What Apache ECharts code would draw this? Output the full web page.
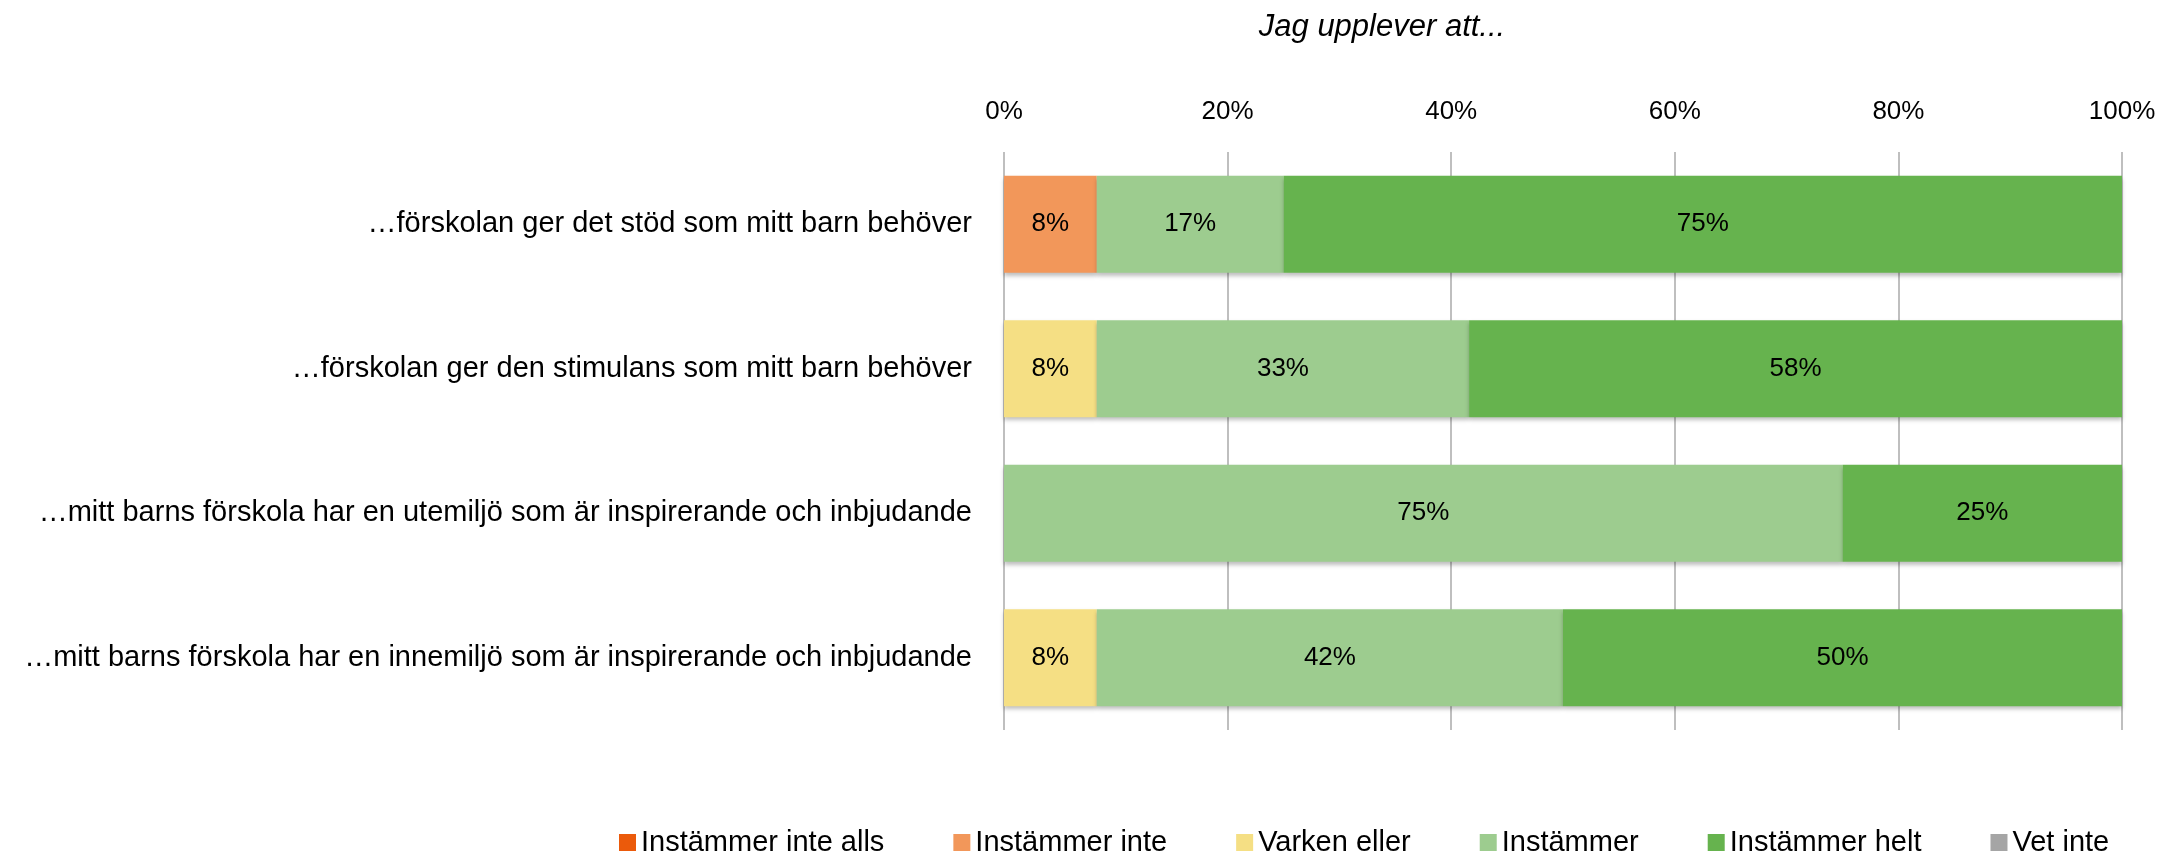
<!DOCTYPE html>
<html>
<head>
<meta charset="utf-8">
<script src="https://cdn.jsdelivr.net/npm/echarts@6/dist/echarts.min.js"></script>
<style>
html, body { margin: 0; padding: 0; background: #fff; }
#chart { width: 2162px; height: 852px; }
</style>
</head>
<body>
<div id="chart"></div>
<script>
var categories = [
	'…förskolan ger det stöd som mitt barn behöver',
	'…förskolan ger den stimulans som mitt barn behöver',
	'…mitt barns förskola har en utemiljö som är inspirerande och inbjudande',
	'…mitt barns förskola har en innemiljö som är inspirerande och inbjudande'
];
var seriesNames = ['Instämmer inte alls', 'Instämmer inte', 'Varken eller', 'Instämmer', 'Instämmer helt', 'Vet inte'];
var colors = ['#EB5A0B', '#F2975A', '#F5DF84', '#9DCC8F', '#66B34E', '#A5A5A5'];

var instammerInteAlls = [0, 0, 0, 0];
var instammerInte = [8.3, 0, 0, 0];
var varkenEller = [0, 8.3, 0, 8.3];
var instammer = [16.7, 33.3, 75, 41.7];
var instammerHelt = [75, 58.4, 25, 50];
var vetInte = [0, 0, 0, 0];

var xTicks = [0, 20, 40, 60, 80, 100];

var font = "'Liberation Sans', Arial, sans-serif";

var myChart = echarts.init(document.getElementById('chart'));

var allData = [instammerInteAlls, instammerInte, varkenEller, instammer, instammerHelt, vetInte];
var series = seriesNames.map(function(name, i) {
	return {
		name: name,
		type: 'bar',
		stack: 'total',
		barWidth: '67%',
		data: allData[i],
		itemStyle: {
			color: colors[i],
			shadowColor: 'rgba(0, 0, 0, 0.25)',
			shadowBlur: 4,
			shadowOffsetY: 3
		},
		label: {
			show: true,
			position: 'inside',
			color: '#000',
			fontSize: 26,
			fontFamily: font,
			formatter: function(p) {
				return p.value > 0 ? Math.round(p.value) + '%' : '';
			}
		}
	};
});

var option = {
	animation: false,
	title: {
		text: 'Jag upplever att...',
		left: 1377,
		textAlign: 'center',
		top: 7,
		textStyle: {
			color: '#000',
			fontStyle: 'italic',
			fontWeight: 'normal',
			fontSize: 31,
			fontFamily: font
		}
	},
	legend: {
		data: seriesNames,
		left: 614,
		top: 823,
		itemWidth: 17,
		itemHeight: 17,
		itemGap: 69,
		icon: 'rect',
		textStyle: {
			color: '#000',
			fontSize: 29,
			fontFamily: font
		}
	},
	grid: {
		left: 1004,
		right: 40,
		top: 152,
		bottom: 122
	},
	xAxis: {
		type: 'value',
		position: 'top',
		min: xTicks[0],
		max: xTicks[xTicks.length - 1],
		interval: 20,
		axisLine: { show: false },
		axisTick: { show: false },
		axisLabel: {
			color: '#000',
			fontSize: 26,
			fontFamily: font,
			margin: 27,
			formatter: '{value}%'
		},
		splitLine: {
			lineStyle: { color: '#BFBFBF', width: 2 }
		}
	},
	yAxis: {
		type: 'category',
		inverse: true,
		data: categories,
		axisLine: { show: false },
		axisTick: { show: false },
		axisLabel: {
			color: '#000',
			fontSize: 29,
			fontFamily: font,
			margin: 32
		}
	},
	series: series
};

myChart.setOption(option);
</script>
</body>
</html>
